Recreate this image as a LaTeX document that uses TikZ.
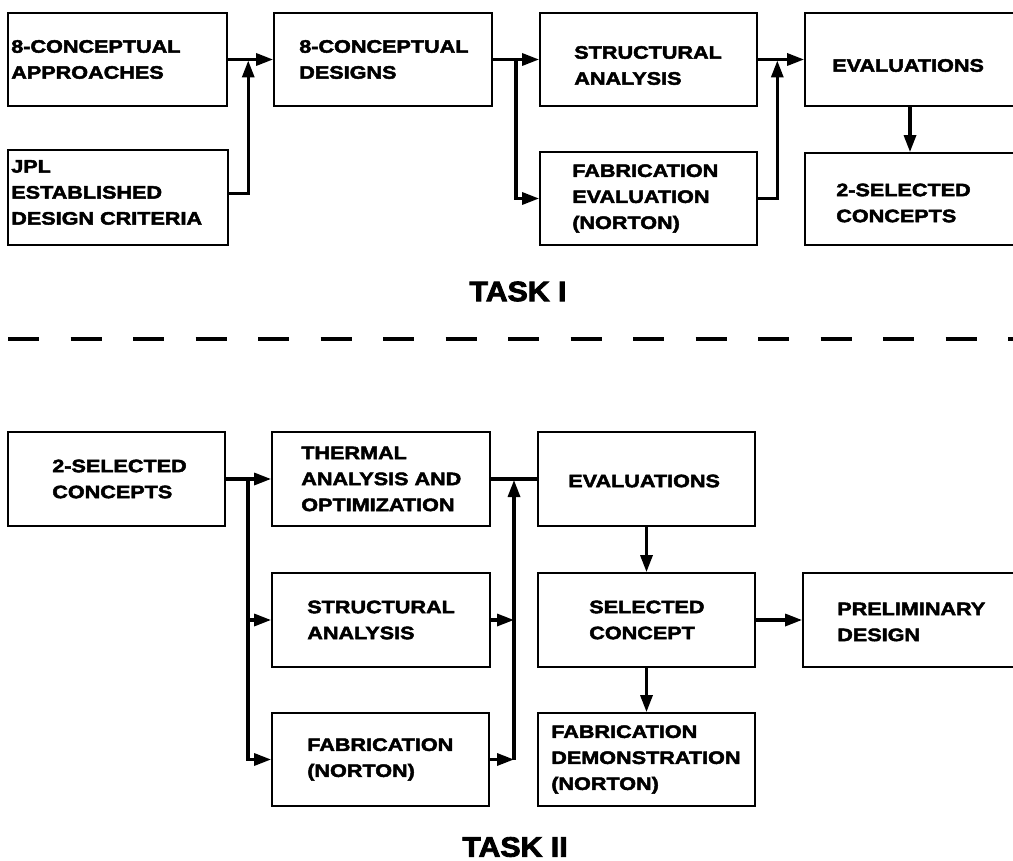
\documentclass[tikz,border=0pt]{standalone}
\usepackage{fontspec}
\usetikzlibrary{arrows.meta}
\newfontfamily\boxfont{Liberation Sans}[FakeStretch=1.2, BoldFeatures={FakeBold=2.6}]
\newfontfamily\taskfont{Liberation Sans}[FakeStretch=1.08, BoldFeatures={FakeBold=3}]

% a framed block: name, left, top, width, height, text indent, text shift, text
\newcommand\blk[8]{%
  \node[box, minimum width=#4pt, minimum height=#5pt] (#1) at ({#2+#4/2},{#3+#5/2}) {};
  \node[txt, xshift=#6pt, yshift=#7pt] (#1-t) at (#1.west) {#8};}

\tikzset{
  box/.style={draw, line width=1.8pt, rectangle, inner sep=0pt},
  txt/.style={inner sep=0pt, align=left, anchor=west,
              font=\boxfont\bfseries\fontsize{18pt}{26pt}\selectfont},
  task/.style={inner sep=0pt, font=\taskfont\bfseries\fontsize{28pt}{30pt}\selectfont},
  conn/.style={line width=3.2pt},
  tip/.style={-{Triangle[length=17pt,width=12pt]}},
  divider/.style={line width=3.2pt, dash pattern=on 31pt off 31.5pt},
}

\begin{document}
\begin{tikzpicture}[x=1pt, y=-1pt]
\useasboundingbox (0,0) rectangle (1013,861);
\clip (0,0) rectangle (1013,861);

% ---------- Task I ----------
\blk{a}{8}{13}{219}{93}{4}{0}{8-CONCEPTUAL\\APPROACHES}
\blk{b}{8}{150}{220}{95}{4}{5}{JPL\\ESTABLISHED\\DESIGN CRITERIA}
\blk{c}{274}{13}{218}{93}{26}{0}{8-CONCEPTUAL\\DESIGNS}
\blk{d}{540}{13}{217}{93}{35}{-6}{STRUCTURAL\\ANALYSIS}
\blk{e}{540}{152}{217}{93}{33}{0}{FABRICATION\\EVALUATION\\(NORTON)}
\blk{f}{805}{13}{210}{93}{28}{-6}{EVALUATIONS}
\blk{g}{805}{153}{210}{92}{32}{-4}{2-SELECTED\\CONCEPTS}

\path (a.east) -- coordinate[pos=0.45] (j1) (c.west);
\draw[conn,tip] (a.east) -- (c.west);
\draw[conn,tip,shorten >=1pt] ([yshift=4pt]b.east) -| (j1);

\path (c.east) -- coordinate[pos=0.5] (j2) (d.west);
\draw[conn,tip] (c.east) -- (d.west);
\draw[conn,tip] (j2) |- (e.west);

\path (d.east) -- coordinate[pos=0.42] (j3) (f.west);
\draw[conn,tip] (d.east) -- (f.west);
\draw[conn,tip,shorten >=1pt] (e.east) -| (j3);

\draw[conn,tip] (f.south) -- (g.north);

\node[task] (t1) at (518,291.5) {TASK I};

% ---------- separator ----------
\draw[divider] (8,339) -- (1013,339);

% ---------- Task II ----------
\blk{h}{8}{432}{217}{94}{45}{0}{2-SELECTED\\CONCEPTS}
\blk{i}{272}{432}{218}{94}{30}{0}{THERMAL\\ANALYSIS AND\\OPTIMIZATION}
\blk{j}{272}{573}{218}{94}{36}{0}{STRUCTURAL\\ANALYSIS}
\blk{k}{272}{713}{217}{93}{36}{0}{FABRICATION\\(NORTON)}
\blk{l}{538}{432}{217}{94}{31}{-2}{EVALUATIONS}
\blk{m}{538}{573}{217}{94}{52}{0}{SELECTED\\CONCEPT}
\blk{n}{803}{573}{212}{94}{35}{-2}{PRELIMINARY\\DESIGN}
\blk{o}{538}{713}{217}{93}{14}{0}{FABRICATION\\DEMONSTRATION\\(NORTON)}

\path (h.east) -- coordinate[pos=0.49] (j4) (i.west);
\draw[conn,tip] (h.east) -- (i.west);
\draw[conn,tip] (j4) |- (k.west);
\draw[conn,tip] (j4 |- j.west) -- (j.west);

\path (i.east) -- coordinate[pos=0.5] (j5) (l.west);
\draw[conn] (i.east) -- (l.west);
\draw[conn,tip] (j.east) -- (j.east -| j5);
\draw[conn,tip] (k.east) -- (k.east -| j5);
\draw[conn,tip,shorten >=1pt] (k.east -| j5) -- (j5);

\draw[conn,tip] (l.south) -- (m.north);
\draw[conn,tip] (m.east) -- (n.west);
\draw[conn,tip] (m.south) -- (o.north);

\node[task] (t2) at (515,847) {TASK II};
\end{tikzpicture}
\end{document}
